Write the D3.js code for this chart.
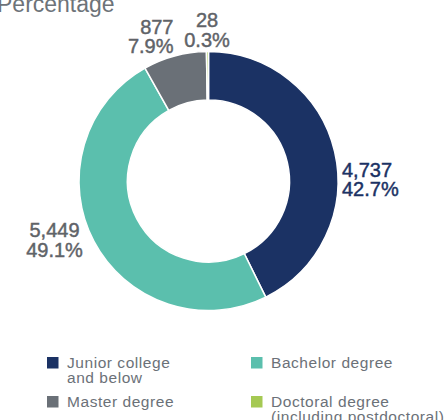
<!DOCTYPE html>
<html>
<head>
<meta charset="utf-8">
<script src="https://cdn.jsdelivr.net/npm/d3@7"></script>
<style>
  body { margin: 0; background: #fff; }
  svg { display: block; font-family: "Liberation Sans", Arial, sans-serif; }
</style>
</head>
<body>
<svg id="chart" width="448" height="420"></svg>
<script>
// data
const categories = ["Junior college and below", "Bachelor degree", "Master degree", "Doctoral degree (including postdoctoral)"]
const counts = [4737, 5449, 877, 28]
const percents = ["42.7%", "49.1%", "7.9%", "0.3%"]
const legendLines = [["Junior college", "and below"], ["Bachelor degree"], ["Master degree"], ["Doctoral degree", "(including postdoctoral)"]]

const colors = ["#1b3264", "#5bbfad", "#6a7077", "#a5c953"]
const labelColors = ["#1b3264", "#5f6368", "#5f6368", "#5f6368"]

// where each value label sits, relative to the donut centre
const labelLayout = [
    {anchor: "start", dx: 133.5, dy: -4.5},
    {anchor: "middle", dx: -154, dy: 56},
    {anchor: "end", dx: -35, dy: -147.5},
    {anchor: "middle", dx: -1.5, dy: -154}
]

const svg = d3.select("#chart")
const cx = 208.5, cy = 181
const outerR = 129.5, innerR = 81

svg.append("text")
   .attr("x", -3)
   .attr("y", 12)
   .attr("font-size", 23)
   .attr("fill", "#6d7379")
   .text("Percentage")

const pie = d3.pie().sort(null).value(d => d)
const arc = d3.arc().innerRadius(innerR).outerRadius(outerR)

const g = svg.append("g").attr("transform", `translate(${cx},${cy})`)

g.selectAll("path")
 .data(pie(counts))
 .enter()
 .append("path")
 .attr("d", arc)
 .attr("fill", (d, i) => colors[i])
 .attr("stroke", "#fff")
 .attr("stroke-width", 1.5)

const fmt = d3.format(",")

g.selectAll("text.value")
 .data(counts)
 .enter()
 .append("text")
 .attr("class", "value")
 .attr("text-anchor", (d, i) => labelLayout[i].anchor)
 .attr("font-size", 20)
 .attr("fill", (d, i) => labelColors[i])
 .attr("stroke", (d, i) => labelColors[i])
 .attr("stroke-width", 0.45)
 .each(function (d, i) {
     const t = d3.select(this)
     t.append("tspan").attr("x", labelLayout[i].dx).attr("y", labelLayout[i].dy).text(fmt(d))
     t.append("tspan").attr("x", labelLayout[i].dx).attr("y", labelLayout[i].dy + 19.5).text(percents[i])
 })

// legend, two columns
const legendX = d3.scaleOrdinal().domain([0, 1]).range([47, 251])
const legendY = d3.scaleOrdinal().domain([0, 1]).range([357, 396])

const legend = svg.selectAll("g.legend")
   .data(categories)
   .enter()
   .append("g")
   .attr("class", "legend")
   .attr("transform", (d, i) => `translate(${legendX(i % 2)},${legendY(Math.floor(i / 2))})`)

legend.append("rect")
      .attr("width", 11.5)
      .attr("height", 11.5)
      .attr("fill", (d, i) => colors[i])

legend.append("text")
      .attr("font-size", 15.5)
      .attr("fill", "#6b7178")
      .attr("letter-spacing", 0.55)
      .each(function (d, i) {
          d3.select(this)
            .selectAll("tspan")
            .data(legendLines[i])
            .enter()
            .append("tspan")
            .attr("x", 20)
            .attr("y", (l, j) => 10.5 + j * 15)
            .text(l => l)
      })
</script>
</body>
</html>
